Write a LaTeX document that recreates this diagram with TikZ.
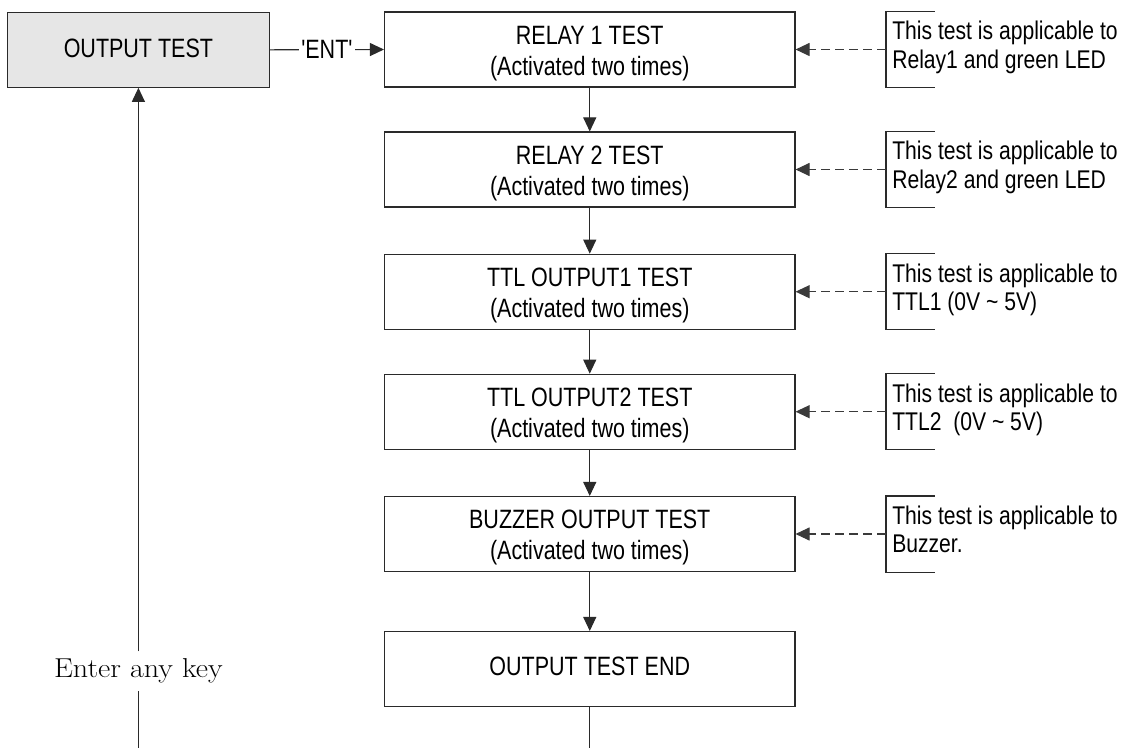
\documentclass[tikz,border=0pt]{standalone}
\usepackage{fontspec}
\newfontfamily\narrowsans{Liberation Sans}[FakeStretch=0.81,Ligatures=TeXOff]
\newfontfamily\notesans{Liberation Sans}[FakeStretch=0.825,Ligatures=TeXOff]
\newfontfamily\keyserif{Latin Modern Roman}[FakeStretch=1.1]
\usetikzlibrary{arrows.meta}
\definecolor{linec}{HTML}{2A2A2A}
\definecolor{dashc}{HTML}{3A3A3A}
\definecolor{boxfill}{HTML}{E6E6E6}
\newcommand{\bxfont}{\narrowsans\fontsize{19.9}{23.25}\selectfont}
\newcommand{\ntfont}{\notesans\fontsize{19.2}{21.2}\selectfont}
\newcommand{\keyfont}{\keyserif\fontsize{20.5}{24}\selectfont}
\begin{document}
\begin{tikzpicture}[x=0.75pt,y=-0.75pt, line width=0.8pt,
  tip/.style={-{Triangle[length=10.5pt,width=9.75pt]}},
  box/.style={draw=linec, minimum height=56.25pt, inner sep=0pt, align=center, font=\bxfont},
  stepbox/.style={box, minimum width=307.9pt},
  bracketnode/.style={minimum width=35.6pt, minimum height=56.25pt, inner sep=0pt},
  notetext/.style={anchor=west, inner sep=0pt, align=left, font=\ntfont},
  dashconn/.style={draw=dashc, dash pattern=on 6.5pt off 4pt, tip},
  conn/.style={draw=linec, tip},
  bracket/.style={draw=linec}
]
\useasboundingbox (0,0) rectangle (1127,748);

% main column
\node[box, fill=boxfill, minimum width=196.35pt, text depth=2pt] (ot) at (138.4,49.8) {OUTPUT TEST};
\node[stepbox] (r1) at (589.75,49.5) {\rule{0pt}{19.2pt}RELAY 1 TEST\\(Activated two times)};
\node[stepbox] (r2) at (589.75,169.5) {\rule{0pt}{19.2pt}RELAY 2 TEST\\(Activated two times)};
\node[stepbox] (r3) at (589.75,291.7) {\rule{0pt}{19.2pt}TTL OUTPUT1 TEST\\(Activated two times)};
\node[stepbox] (r4) at (589.75,411.7) {\rule{0pt}{19.2pt}TTL OUTPUT2 TEST\\(Activated two times)};
\node[stepbox] (r5) at (589.75,534) {\rule{0pt}{19.2pt}BUZZER OUTPUT TEST\\(Activated two times)};
\node[stepbox, text depth=4pt] (end) at (589.75,669) {OUTPUT TEST END};
\coordinate (eb) at (589.75,748);

\draw[conn] (ot.east) -- node[fill=white, inner xsep=2pt, inner ysep=0pt, font=\bxfont, text=black] (ent) {'ENT'} (r1.west);
\draw[conn] (r1) -- (r2);
\draw[conn] (r2) -- (r3);
\draw[conn] (r3) -- (r4);
\draw[conn] (r4) -- (r5);
\draw[conn] (r5) -- (end);
\draw[draw=linec] (end.south) -- (eb);

% return path
\node[inner sep=0pt, minimum height=28.5pt, font=\keyfont] (key) at (138.4,671) {Enter any key};
\coordinate (lb) at (138.4,748);
\draw[draw=linec] (lb) -- (key.south);
\draw[conn] (key.north) -- (ot.south);

% notes
\node[bracketnode] (n1) at (910.25,49.5) {};
\node[bracketnode] (n2) at (910.25,169.5) {};
\node[bracketnode] (n3) at (910.25,291.7) {};
\node[bracketnode] (n4) at (910.25,411.7) {};
\node[bracketnode] (n5) at (910.25,534) {};
\foreach \n in {n1,n2,n3,n4,n5}{
  \draw[bracket] (\n.north east) -- (\n.north west) -- (\n.south west) -- (\n.south east);
}
\node[notetext] (t1) at ([xshift=4.3pt,yshift=1.5pt]n1.west) {This test is applicable to\\Relay1 and green LED\vphantom{y}};
\node[notetext] (t2) at ([xshift=4.3pt,yshift=1.5pt]n2.west) {This test is applicable to\\Relay2 and green LED\vphantom{y}};
\node[notetext] (t3) at ([xshift=4.3pt,yshift=1.5pt]n3.west) {This test is applicable to\\TTL1 (0V \textasciitilde{} 5V)\vphantom{y}};
\node[notetext] (t4) at ([xshift=4.3pt,yshift=1.5pt]n4.west) {This test is applicable to\\TTL2\ \ (0V \textasciitilde{} 5V)\vphantom{y}};
\node[notetext] (t5) at ([xshift=4.3pt,yshift=1.5pt]n5.west) {This test is applicable to\\Buzzer.\vphantom{y}};
\draw[dashconn] (n1.west) -- (r1.east);
\draw[dashconn] (n2.west) -- (r2.east);
\draw[dashconn] (n3.west) -- (r3.east);
\draw[dashconn] (n4.west) -- (r4.east);
\draw[dashconn] (n5.west) -- (r5.east);
\end{tikzpicture}
\end{document}
